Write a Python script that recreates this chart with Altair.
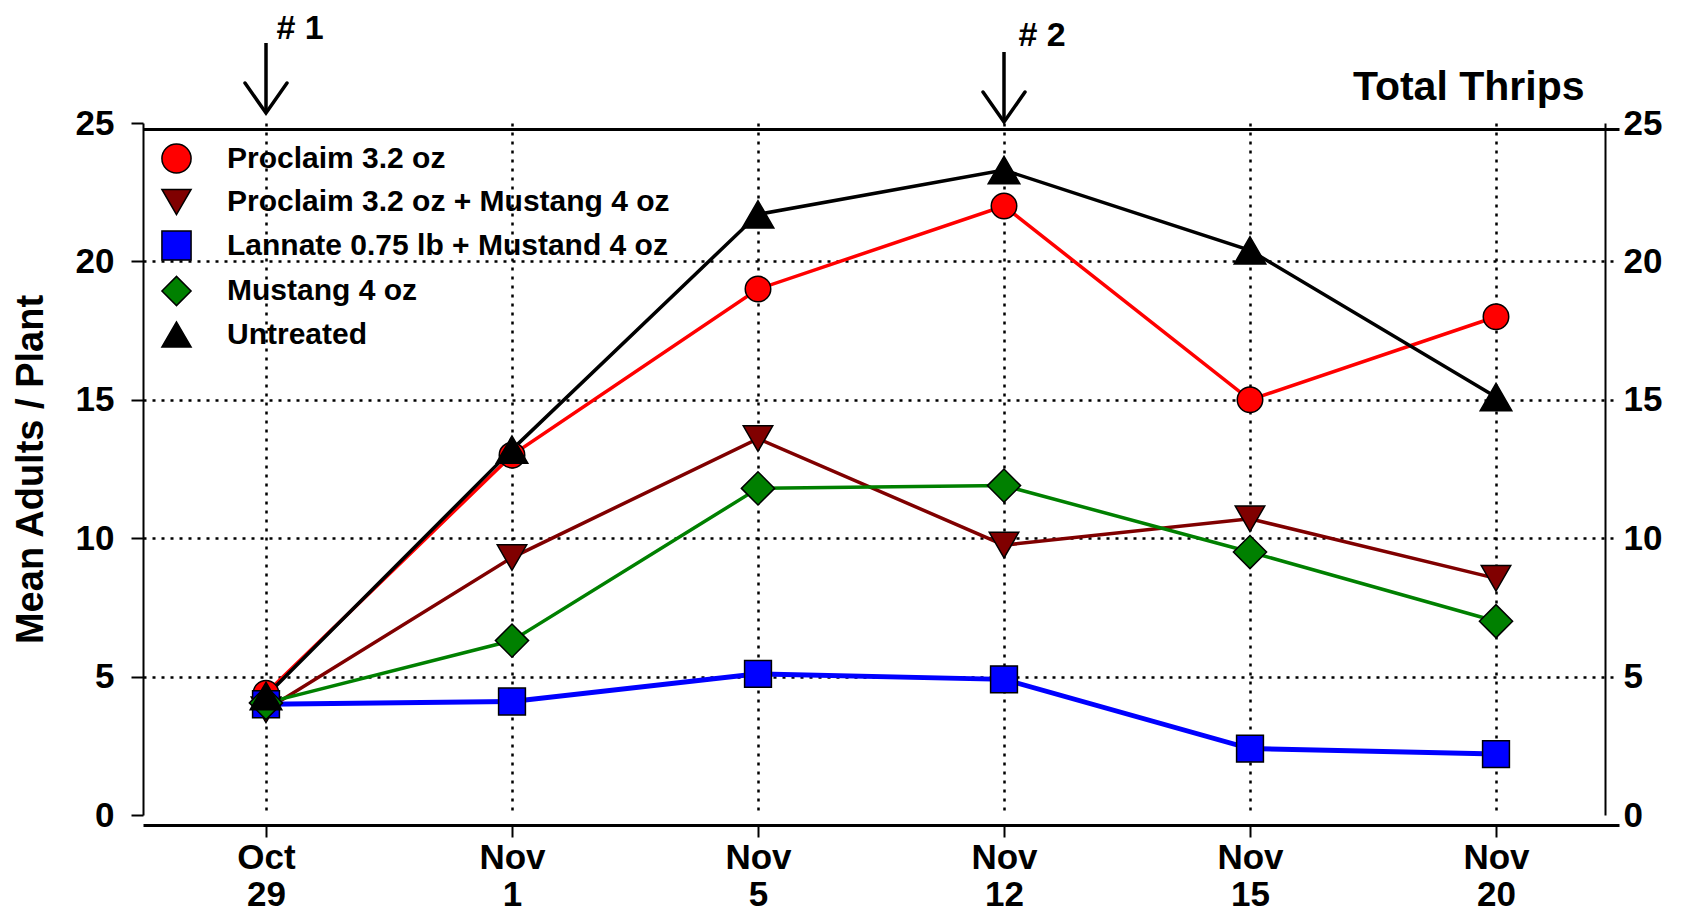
import altair as alt
import pandas as pd

# ---- data ----
dates = ["Oct 29", "Nov 1", "Nov 5", "Nov 12", "Nov 15", "Nov 20"]
series = [
    "Proclaim 3.2 oz",
    "Proclaim 3.2 oz + Mustang 4 oz",
    "Lannate 0.75 lb + Mustand 4 oz",
    "Mustang 4 oz",
    "Untreated",
]
proclaim = [4.4, 13.0, 19.0, 22.0, 15.0, 18.0]
proclaim_mustang = [3.8, 9.3, 13.6, 9.75, 10.7, 8.55]
lannate_mustang = [4.0, 4.1, 5.1, 4.9, 2.4, 2.2]
mustang = [4.05, 6.3, 11.8, 11.9, 9.5, 7.0]
untreated = [4.3, 13.2, 21.7, 23.3, 20.4, 15.1]
y_ticks = [0, 5, 10, 15, 20, 25]
spray_dates = ["Oct 29", "Nov 12"]
spray_labels = ["# 1", "# 2"]
chart_title = "Total Thrips"
y_title = "Mean Adults / Plant"

# ---- styles ----
fills = ["#FF0000", "#800000", "#0000FF", "#008000", "#000000"]
outlines = ["#000000"] * 5
shapes = ["circle", "triangle-down", "square", "diamond", "triangle-up"]
marker_sizes = [650, 870, 720, 1100, 1000]
line_widths = [3.5, 3.5, 5, 3.5, 3.5]
FONT = "Liberation Sans"

values_by_series = [proclaim, proclaim_mustang, lannate_mustang, mustang, untreated]
rows = []
for s, vals, ms, col, lw in zip(series, values_by_series, marker_sizes, fills, line_widths):
    for d, v in zip(dates, vals):
        rows.append({"date": d, "series": s, "value": v, "msize": ms, "lcolor": col, "lwidth": lw})
df = pd.DataFrame(rows)

xscale = alt.Scale(type="point", domain=dates, padding=0.5)
yscale = alt.Scale(domain=[0, 25], nice=False, zero=True)

bottom_axis = alt.Axis(
    orient="bottom", offset=10, title=None, labelAngle=0,
    labelExpr="split(datum.label, ' ')", labelLineHeight=37.5,
    labelFont=FONT, labelFontSize=35, labelFontWeight="bold", labelColor="black",
    labelPadding=3, tickSize=12, tickWidth=2, tickColor="black",
    domainWidth=3, domainColor="black",
    grid=True, gridColor="black", gridWidth=2.5, gridDash=[3, 6], gridOpacity=1,
)
top_axis = alt.Axis(
    orient="top", offset=-6, title=None, labels=False, ticks=False, grid=False,
    domain=True, domainWidth=3, domainColor="black",
)
left_axis = alt.Axis(
    orient="left", values=y_ticks, title=y_title,
    titleFont=FONT, titleFontSize=38, titleFontWeight="bold", titleColor="black",
    titleX=-112, titleY=346, titleAngle=-90, titleAlign="center", titleBaseline="middle",
    labelFont=FONT, labelFontSize=35, labelFontWeight="bold", labelColor="black",
    labelPadding=17, tickSize=12, tickWidth=2, tickColor="black",
    domainWidth=2, domainColor="black",
    grid=True, gridColor="black", gridWidth=2.5, gridDash=[3, 6],
    gridOpacity={"condition": {"test": "datum.value == 0 || datum.value == 25", "value": 0}, "value": 1},
)
right_axis = alt.Axis(
    orient="right", offset=-14, values=y_ticks, title=None, ticks=False, grid=False,
    labelFont=FONT, labelFontSize=35, labelFontWeight="bold", labelColor="black",
    labelPadding=18, domainWidth=2, domainColor="black",
)

lines = alt.Chart(df).mark_line().encode(
    x=alt.X("date:N", sort=dates, scale=xscale, axis=bottom_axis),
    y=alt.Y("value:Q", scale=yscale, axis=left_axis),
    color=alt.Color("lcolor:N", scale=None),
    strokeWidth=alt.StrokeWidth("lwidth:Q", scale=None),
    detail="series:N",
)

legend = alt.Legend(
    title=None, orient="none", legendX=18, legendY=20, padding=0,
    labelFont=FONT, labelFontSize=30, labelFontWeight="bold", labelColor="black",
    labelLimit=900, labelOffset=35, rowPadding=8.5, symbolSize=850,
    symbolStrokeColor="black", symbolStrokeWidth=1.5,
)

points = alt.Chart(df).mark_point(filled=True, opacity=1, strokeWidth=1.5).encode(
    x=alt.X("date:N", sort=dates, scale=xscale, axis=top_axis),
    y=alt.Y("value:Q", scale=yscale, axis=right_axis),
    fill=alt.Fill("series:N", sort=series, scale=alt.Scale(domain=series, range=fills), legend=legend),
    stroke=alt.Stroke("series:N", sort=series, scale=alt.Scale(domain=series, range=outlines), legend=legend),
    shape=alt.Shape("series:N", sort=series, scale=alt.Scale(domain=series, range=shapes), legend=legend),
    size=alt.Size("msize:Q", scale=None),
)

ann_df = pd.DataFrame({"date": spray_dates, "label": spray_labels})
arrow_layers = []
# (shaft top, tip, text baseline, text dx) in pixels relative to plot top
arrow_geom = [(-80, -10, -84, 34), (-71, -1, -77, 38)]
for lab, (top, tip, ty, dx) in zip(spray_labels, arrow_geom):
    base = alt.Chart(ann_df).transform_filter(alt.datum.label == lab)
    xenc = alt.X("date:N", sort=dates, scale=xscale, axis=None)
    shaft = base.mark_rule(color="black", strokeWidth=3.5).encode(
        x=xenc, y=alt.value(top), y2=alt.value(tip))
    head = base.mark_point(
        shape="M-0.7,-1L0,0L0.7,-1", size=3600, filled=False, color="black",
        strokeWidth=3.5, opacity=1, strokeCap="round", strokeJoin="miter",
    ).encode(x=xenc, y=alt.value(tip))
    txt = base.mark_text(
        font=FONT, fontSize=34, fontWeight="bold", color="black",
        align="center", baseline="alphabetic", dx=dx,
    ).encode(x=xenc, y=alt.value(ty), text="label:N")
    arrow_layers += [shaft, head, txt]

title_layer = alt.Chart(alt.Data(values=[{"t": chart_title}])).mark_text(
    font=FONT, fontSize=41, fontWeight="bold", color="black",
    align="right", baseline="alphabetic",
).encode(x=alt.value(1441.5), y=alt.value(-23), text="t:N")

chart = alt.layer(lines, points, *arrow_layers, title_layer).resolve_axis(
    x="independent", y="independent"
).properties(
    width=1476, height=692,
    autosize=alt.AutoSizeParams(type="none"),
    padding={"left": 135, "top": 115, "right": 50, "bottom": 98},
    background="white",
).configure_view(stroke=None)

chart.save("out.html", embed_options={"renderer": "svg", "actions": False})
